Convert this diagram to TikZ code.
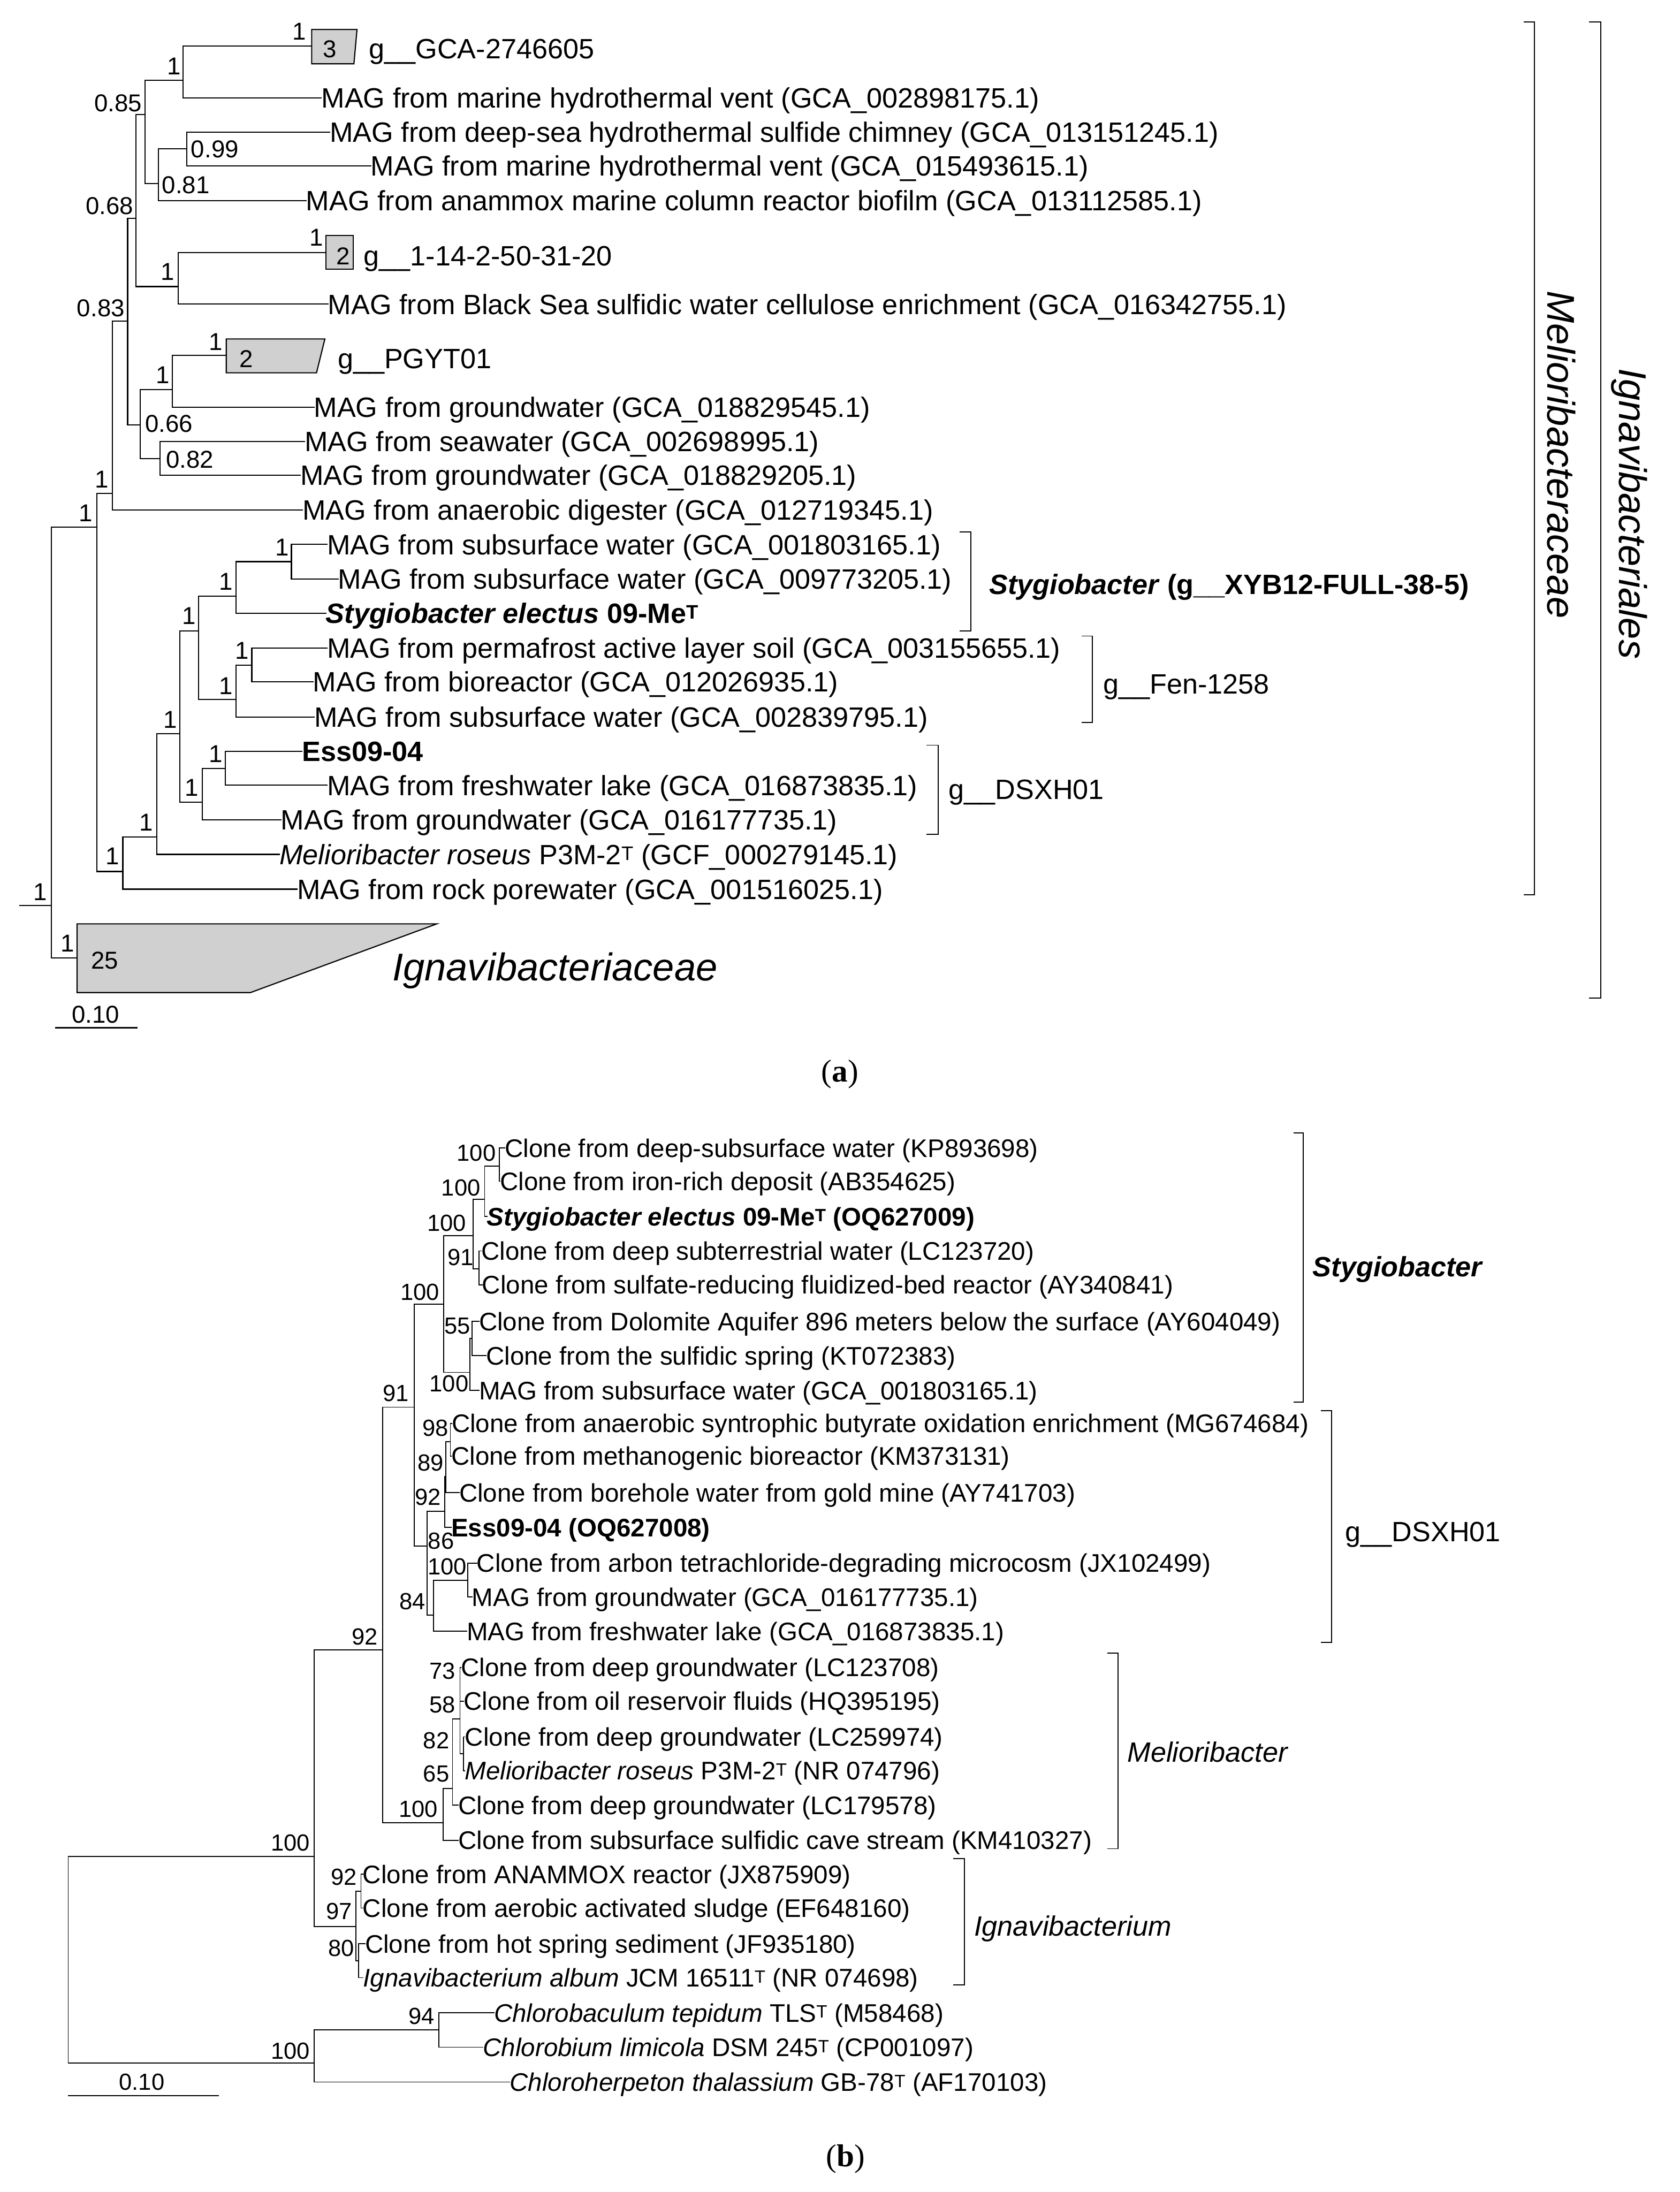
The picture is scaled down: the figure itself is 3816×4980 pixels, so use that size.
\documentclass[tikz,border=0pt]{standalone}
\usepackage{fontspec}
\setmainfont{Liberation Sans}
\newfontfamily\panelserif{Liberation Serif}
\definecolor{boxgray}{RGB}{208,208,208}
\newcommand\fszA{\fontsize{63.5pt}{76pt}\selectfont}
\newcommand\fszAb{\fontsize{55.5pt}{66pt}\selectfont}
\newcommand\fszB{\fontsize{57.8pt}{70pt}\selectfont}
\newcommand\fszBb{\fontsize{53pt}{64pt}\selectfont}
\newcommand\fszL{\fontsize{88pt}{100pt}\selectfont}
\newcommand\fszP{\fontsize{72pt}{86pt}\selectfont}
\begin{document}
\begin{tikzpicture}[x=1pt,y=-1pt,
  treeA/.style={line width=2.6pt, line cap=rect},
  treeB/.style={line width=2.2pt, line cap=rect},
  brk/.style={line width=2.4pt},
  cbox/.style={fill=boxgray, draw=black, line width=2.6pt},
  leafA/.style={anchor=base west, inner sep=0pt, font=\fszA, yshift=-22.7pt},
  leafB/.style={anchor=base west, inner sep=0pt, font=\fszB, yshift=-20.7pt},
  bsA/.style={inner sep=0pt, font=\fszAb},
  bsB/.style={inner sep=0pt, font=\fszBb}]
\useasboundingbox (0,0) rectangle (3816,4980);

%% ================= PANEL (a) =================
\coordinate (aR0) at (45,2057);
\coordinate (aR) at (117,2057);
\coordinate (a12) at (220,1198);
\coordinate (aIg) at (175,2176);
\coordinate (a11) at (255,1121);
\coordinate (a10) at (290,730);
\coordinate (a6) at (309,496);
\coordinate (a9) at (319,965);
\coordinate (a4) at (330,260);
\coordinate (a5) at (405,651);
\coordinate (a1) at (416,182);
\coordinate (a3) at (360,417);
\coordinate (a2) at (424,338);
\coordinate (a7) at (392,885);
\coordinate (a8) at (364,1042);
\coordinate (m1) at (279,1980);
\coordinate (m2) at (356,1902);
\coordinate (m3) at (408,1667);
\coordinate (m4) at (451,1433);
\coordinate (m5) at (536,1354);
\coordinate (m5a) at (662,1276);
\coordinate (m6) at (536,1589);
\coordinate (m6a) at (572,1511);
\coordinate (m7) at (460,1823);
\coordinate (m7a) at (512,1746);
% leaves
\coordinate (b1) at (708,105);
\coordinate (l2) at (730,222);
\coordinate (l3) at (749,300);
\coordinate (l4) at (842,377);
\coordinate (l5) at (695,456);
\coordinate (b6) at (740,574);
\coordinate (l7) at (745,691);
\coordinate (b8) at (514,807);
\coordinate (l9) at (713,925);
\coordinate (l10) at (692,1003);
\coordinate (l11) at (682,1080);
\coordinate (l12) at (687,1159);
\coordinate (l13) at (743,1237);
\coordinate (l14) at (768,1315);
\coordinate (l15) at (740,1393);
\coordinate (l16) at (743,1472);
\coordinate (l17) at (711,1549);
\coordinate (l18) at (714,1629);
\coordinate (l19) at (686,1707);
\coordinate (l20) at (743,1784);
\coordinate (l21) at (638,1863);
\coordinate (l22) at (635,1941);
\coordinate (l23) at (675,2020);

\begin{scope}[treeA]
\draw (aR0) -- (aR);
\foreach \p/\c in {aR/a12, aR/aIg, a12/a11, a12/m1, a11/a10, a11/l12,
  a10/a6, a10/a9, a6/a4, a6/a5, a4/a1, a4/a3, a1/b1, a1/l2, a3/a2, a3/l5,
  a2/l3, a2/l4, a5/b6, a5/l7, a9/a7, a9/a8, a7/b8, a7/l9, a8/l10, a8/l11,
  m1/m2, m1/l23, m2/m3, m2/l22, m3/m4, m3/m7, m4/m5, m4/m6, m5/m5a, m5/l15,
  m5a/l13, m5a/l14, m6/m6a, m6/l18, m6a/l16, m6a/l17, m7/m7a, m7/l21,
  m7a/l19, m7a/l20}
  {\draw (\p) |- (\c);}
\end{scope}

% collapsed clades
\draw[cbox] (708,67) -- (811,67) -- (804,145) -- (708,145) -- cycle;
\draw[cbox] (740,535) -- (802,535) -- (802,612) -- (740,612) -- cycle;
\draw[cbox] (514,770) -- (738,770) -- (719,847) -- (514,847) -- cycle;
\draw[cbox] (175,2099) -- (992,2099) -- (569,2255) -- (175,2255) -- cycle;
\node[bsA] (c3) at (749,111) {3};
\node[bsA] (c2a) at (780,582) {2};
\node[bsA] (c2b) at (560,815) {2};
\node[bsA] (c25) at (238,2182) {25};

% support values (a)
\node[bsA] (sb3) at (680,72) {1};
\node[bsA] (sb6) at (719,540) {1};
\node[bsA] (sb8) at (490,777) {1};
\node[bsA] (sa1) at (395,151) {1};
\node[bsA] (sa2) at (488,339) {0.99};
\node[bsA] (sa3) at (422,420) {0.81};
\node[bsA] (sa4) at (268,235) {0.85};
\node[bsA] (sa5) at (381,617) {1};
\node[bsA] (sa6) at (249,468) {0.68};
\node[bsA] (sa7) at (370,852) {1};
\node[bsA] (sa8) at (431,1044) {0.82};
\node[bsA] (sa9) at (384,963) {0.66};
\node[bsA] (sa10) at (229,700) {0.83};
\node[bsA] (sa11) at (231,1089) {1};
\node[bsA] (sa12) at (195,1166) {1};
\node[bsA] (saR) at (92,2027) {1};
\node[bsA] (saIg) at (153,2143) {1};
\node[bsA] (sm1) at (255,1945) {1};
\node[bsA] (sm2) at (332,1868) {1};
\node[bsA] (sm3) at (387,1635) {1};
\node[bsA] (sm4) at (430,1399) {1};
\node[bsA] (sm5) at (513,1321) {1};
\node[bsA] (sm5a) at (641,1244) {1};
\node[bsA] (sm6) at (513,1558) {1};
\node[bsA] (sm6a) at (550,1478) {1};
\node[bsA] (sm7) at (436,1790) {1};
\node[bsA] (sm7a) at (490,1713) {1};

% leaf labels (a)
\node[leafA] (ta1) at (838,110) {g\_\_GCA-2746605};
\node[leafA] (ta2) at (l2) {MAG from marine hydrothermal vent (GCA\_002898175.1)};
\node[leafA] (ta3) at (l3) {MAG from deep-sea hydrothermal sulfide chimney (GCA\_013151245.1)};
\node[leafA] (ta4) at (l4) {MAG from marine hydrothermal vent (GCA\_015493615.1)};
\node[leafA] (ta5) at (l5) {MAG from anammox marine column reactor biofilm (GCA\_013112585.1)};
\node[leafA] (ta6) at (826,581) {g\_\_1-14-2-50-31-20};
\node[leafA] (ta7) at (l7) {MAG from Black Sea sulfidic water cellulose enrichment (GCA\_016342755.1)};
\node[leafA] (ta8) at (767,814) {g\_\_PGYT01};
\node[leafA] (ta9) at (l9) {MAG from groundwater (GCA\_018829545.1)};
\node[leafA] (ta10) at (l10) {MAG from seawater (GCA\_002698995.1)};
\node[leafA] (ta11) at (l11) {MAG from groundwater (GCA\_018829205.1)};
\node[leafA] (ta12) at (l12) {MAG from anaerobic digester (GCA\_012719345.1)};
\node[leafA] (ta13) at (l13) {MAG from subsurface water (GCA\_001803165.1)};
\node[leafA] (ta14) at (l14) {MAG from subsurface water (GCA\_009773205.1)};
\node[leafA] (ta15) at (l15) {\textbf{\textit{Stygiobacter electus} 09-Me\textsuperscript{T}}};
\node[leafA] (ta16) at (l16) {MAG from permafrost active layer soil (GCA\_003155655.1)};
\node[leafA] (ta17) at (l17) {MAG from bioreactor (GCA\_012026935.1)};
\node[leafA] (ta18) at (l18) {MAG from subsurface water (GCA\_002839795.1)};
\node[leafA] (ta19) at (l19) {\textbf{Ess09-04}};
\node[leafA] (ta20) at (l20) {MAG from freshwater lake (GCA\_016873835.1)};
\node[leafA] (ta21) at (l21) {MAG from groundwater (GCA\_016177735.1)};
\node[leafA] (ta22) at (l22) {\textit{Melioribacter roseus} P3M-2\textsuperscript{T} (GCF\_000279145.1)};
\node[leafA] (ta23) at (l23) {MAG from rock porewater (GCA\_001516025.1)};
\node[anchor=base west, inner sep=0pt, font=\fszL\itshape] (tIgn) at (891,2228) {Ignavibacteriaceae};

% brackets (a)
\draw[brk] (2180,1209) -- (2205,1209) -- (2205,1434) -- (2180,1434);
\draw[brk] (2457,1445) -- (2482,1445) -- (2482,1641) -- (2457,1641);
\draw[brk] (2104,1693) -- (2131,1693) -- (2131,1895) -- (2104,1895);
\draw[brk] (3461,50) -- (3486,50) -- (3486,2033) -- (3461,2033);
\draw[brk] (3610,50) -- (3636,50) -- (3636,2268) -- (3610,2268);
\node[leafA] (ga1) at (2247,1327) {\textbf{\textit{Stygiobacter} (g\_\_XYB12-FULL-38-5)}};
\node[leafA] (ga2) at (2506,1553) {g\_\_Fen-1258};
\node[leafA] (ga3) at (2155,1793) {g\_\_DSXH01};
\node[rotate=-90, anchor=base, inner sep=0pt, font=\fszL\itshape] (gMel) at (3515,1033) {Melioribacteraceae};
\node[rotate=-90, anchor=base, inner sep=0pt, font=\fszL\itshape] (gIgo) at (3678,1167) {Ignavibacteriales};

% scale bar (a)
\coordinate (sca0) at (126,2335);
\coordinate (sca1) at (311,2335);
\draw[treeA] (sca0) -- (sca1);
\node[bsA] (sca) at (217,2305) {0.10};

\node[font=\fszP\panelserif, inner sep=0pt] (pa) at (1908,2440) {(\textbf{a})};

%% ================= PANEL (b) =================
\coordinate (bR) at (155,4218);
\coordinate (bIn) at (714,4218);
\coordinate (bOut) at (714,4687);
\coordinate (b92) at (869,3748);
\coordinate (bIg) at (809,4377);
\coordinate (b91) at (941,3197);
\coordinate (bMe) at (1007,4141);
\coordinate (bSt) at (1008,2963);
\coordinate (bDS) at (970,3512);
\coordinate (bS1) at (1075,2807);
\coordinate (bS2) at (1067,3118);
\coordinate (bS1a) at (1101,2725);
\coordinate (bS1b) at (1088,2883);
\coordinate (bS1aa) at (1134,2649);
\coordinate (bS2a) at (1072,3041);
\coordinate (bD1) at (1010,3433);
\coordinate (bD2) at (985,3669);
\coordinate (bD1a) at (1013,3354);
\coordinate (bD1aa) at (1023,3275);
\coordinate (bD2a) at (1063,3590);
\coordinate (bM1) at (1028,4063);
\coordinate (bM2) at (1045,3905);
\coordinate (bM3) at (1053,3984);
\coordinate (bI1) at (820,4297);
\coordinate (bI2) at (815,4455);
\coordinate (bO1) at (997,4612);
% leaves
\coordinate (k1) at (1147,2608);
\coordinate (k2) at (1136,2684);
\coordinate (k3) at (1106,2764);
\coordinate (k4) at (1093,2842);
\coordinate (k5) at (1095,2919);
\coordinate (k6) at (1088,3002);
\coordinate (k7) at (1104,3080);
\coordinate (k8) at (1088,3159);
\coordinate (k9) at (1026,3234);
\coordinate (k10) at (1025,3308);
\coordinate (k11) at (1043,3391);
\coordinate (k12) at (1025,3470);
\coordinate (k13) at (1083,3551);
\coordinate (k14) at (1072,3628);
\coordinate (k15) at (1060,3706);
\coordinate (k16) at (1047,3788);
\coordinate (k17) at (1053,3865);
\coordinate (k18) at (1056,3946);
\coordinate (k19) at (1056,4023);
\coordinate (k20) at (1041,4101);
\coordinate (k21) at (1041,4181);
\coordinate (k22) at (824,4258);
\coordinate (k23) at (824,4335);
\coordinate (k24) at (829,4416);
\coordinate (k25) at (825,4493);
\coordinate (k26) at (1122,4573);
\coordinate (k27) at (1097,4651);
\coordinate (k28) at (1158,4730);

\begin{scope}[treeB]
\foreach \p/\c in {bR/bIn, bR/bOut, bIn/b92, bIn/bIg, b92/b91, b92/bMe,
  b91/bSt, b91/bDS, bSt/bS1, bSt/bS2, bS1/bS1a, bS1/bS1b, bS1a/bS1aa, bS1a/k3,
  bS1aa/k1, bS1aa/k2, bS1b/k4, bS1b/k5, bS2/bS2a, bS2/k8, bS2a/k6, bS2a/k7,
  bDS/bD1, bDS/bD2, bD1/bD1a, bD1/k12, bD1a/bD1aa, bD1a/k11, bD1aa/k9, bD1aa/k10,
  bD2/bD2a, bD2/k15, bD2a/k13, bD2a/k14,
  bMe/bM1, bMe/k21, bM1/bM2, bM1/k20, bM2/k16, bM2/k17, bM2/bM3, bM3/k18, bM3/k19,
  bIg/bI1, bIg/bI2, bI1/k22, bI1/k23, bI2/k24, bI2/k25,
  bOut/bO1, bOut/k28, bO1/k26, bO1/k27}
  {\draw (\p) |- (\c);}
\end{scope}

% support values (b)
\node[bsB] (s1) at (1082,2620) {100};
\node[bsB] (s2) at (1047,2699) {100};
\node[bsB] (s3) at (1015,2779) {100};
\node[bsB] (s4) at (1046,2857) {91};
\node[bsB] (s5) at (954,2935) {100};
\node[bsB] (s6) at (1039,3012) {55};
\node[bsB] (s7) at (1020,3144) {100};
\node[bsB] (s8) at (899,3165) {91};
\node[bsB] (s9) at (989,3244) {98};
\node[bsB] (s10) at (978,3323) {89};
\node[bsB] (s11) at (972,3401) {92};
\node[bsB] (s12) at (1002,3501) {86};
\node[bsB] (s13) at (1016,3559) {100};
\node[bsB] (s14) at (937,3638) {84};
\node[bsB] (s15) at (829,3719) {92};
\node[bsB] (s16) at (1005,3796) {73};
\node[bsB] (s17) at (1005,3873) {58};
\node[bsB] (s18) at (991,3954) {82};
\node[bsB] (s19) at (991,4030) {65};
\node[bsB] (s20) at (950,4110) {100};
\node[bsB] (s21) at (660,4187) {100};
\node[bsB] (s22) at (781,4265) {92};
\node[bsB] (s23) at (770,4342) {97};
\node[bsB] (s24) at (775,4426) {80};
\node[bsB] (s25) at (958,4580) {94};
\node[bsB] (s26) at (660,4659) {100};

% leaf labels (b)
\node[leafB] (tb1) at (k1) {Clone from deep-subsurface water (KP893698)};
\node[leafB] (tb2) at (k2) {Clone from iron-rich deposit (AB354625)};
\node[leafB] (tb3) at (k3) {\textbf{\textit{Stygiobacter electus} 09-Me\textsuperscript{T} (OQ627009)}};
\node[leafB] (tb4) at (k4) {Clone from deep subterrestrial water (LC123720)};
\node[leafB] (tb5) at (k5) {Clone from sulfate-reducing fluidized-bed reactor (AY340841)};
\node[leafB] (tb6) at (k6) {Clone from Dolomite Aquifer 896 meters below the surface (AY604049)};
\node[leafB] (tb7) at (k7) {Clone from the sulfidic spring (KT072383)};
\node[leafB] (tb8) at (k8) {MAG from subsurface water (GCA\_001803165.1)};
\node[leafB] (tb9) at (k9) {Clone from anaerobic syntrophic butyrate oxidation enrichment (MG674684)};
\node[leafB] (tb10) at (k10) {Clone from methanogenic bioreactor (KM373131)};
\node[leafB] (tb11) at (k11) {Clone from borehole water from gold mine (AY741703)};
\node[leafB] (tb12) at (k12) {\textbf{Ess09-04 (OQ627008)}};
\node[leafB] (tb13) at (k13) {Clone from arbon tetrachloride-degrading microcosm (JX102499)};
\node[leafB] (tb14) at (k14) {MAG from groundwater (GCA\_016177735.1)};
\node[leafB] (tb15) at (k15) {MAG from freshwater lake (GCA\_016873835.1)};
\node[leafB] (tb16) at (k16) {Clone from deep groundwater (LC123708)};
\node[leafB] (tb17) at (k17) {Clone from oil reservoir fluids (HQ395195)};
\node[leafB] (tb18) at (k18) {Clone from deep groundwater (LC259974)};
\node[leafB] (tb19) at (k19) {\textit{Melioribacter roseus} P3M-2\textsuperscript{T} (NR 074796)};
\node[leafB] (tb20) at (k20) {Clone from deep groundwater (LC179578)};
\node[leafB] (tb21) at (k21) {Clone from subsurface sulfidic cave stream (KM410327)};
\node[leafB] (tb22) at (k22) {Clone from ANAMMOX reactor (JX875909)};
\node[leafB] (tb23) at (k23) {Clone from aerobic activated sludge (EF648160)};
\node[leafB] (tb24) at (k24) {Clone from hot spring sediment (JF935180)};
\node[leafB] (tb25) at (k25) {\textit{Ignavibacterium album} JCM 16511\textsuperscript{T} (NR 074698)};
\node[leafB] (tb26) at (k26) {\textit{Chlorobaculum tepidum} TLS\textsuperscript{T} (M58468)};
\node[leafB] (tb27) at (k27) {\textit{Chlorobium limicola} DSM 245\textsuperscript{T} (CP001097)};
\node[leafB] (tb28) at (k28) {\textit{Chloroherpeton thalassium} GB-78\textsuperscript{T} (AF170103)};

% brackets (b)
\draw[brk] (2938,2574) -- (2961,2574) -- (2961,3186) -- (2938,3186);
\draw[brk] (3000,3205) -- (3025,3205) -- (3025,3731) -- (3000,3731);
\draw[brk] (2515,3756) -- (2540,3756) -- (2540,4200) -- (2515,4200);
\draw[brk] (2165,4223) -- (2191,4223) -- (2191,4509) -- (2165,4509);
\node[leafA] (gb1) at (2982,2878) {\textbf{\textit{Stygiobacter}}};
\node[leafA] (gb2) at (3056,3479) {g\_\_DSXH01};
\node[leafA] (gb3) at (2561,3980) {\textit{Melioribacter}};
\node[leafA] (gb4) at (2213,4375) {\textit{Ignavibacterium}};

% scale bar (b)
\coordinate (scb0) at (155,4761);
\coordinate (scb1) at (496,4761);
\draw[treeB] (scb0) -- (scb1);
\node[bsB] (scb) at (322,4730) {0.10};

\node[font=\fszP\panelserif, inner sep=0pt] (pb) at (1921,4905) {(\textbf{b})};
\end{tikzpicture}
\end{document}
